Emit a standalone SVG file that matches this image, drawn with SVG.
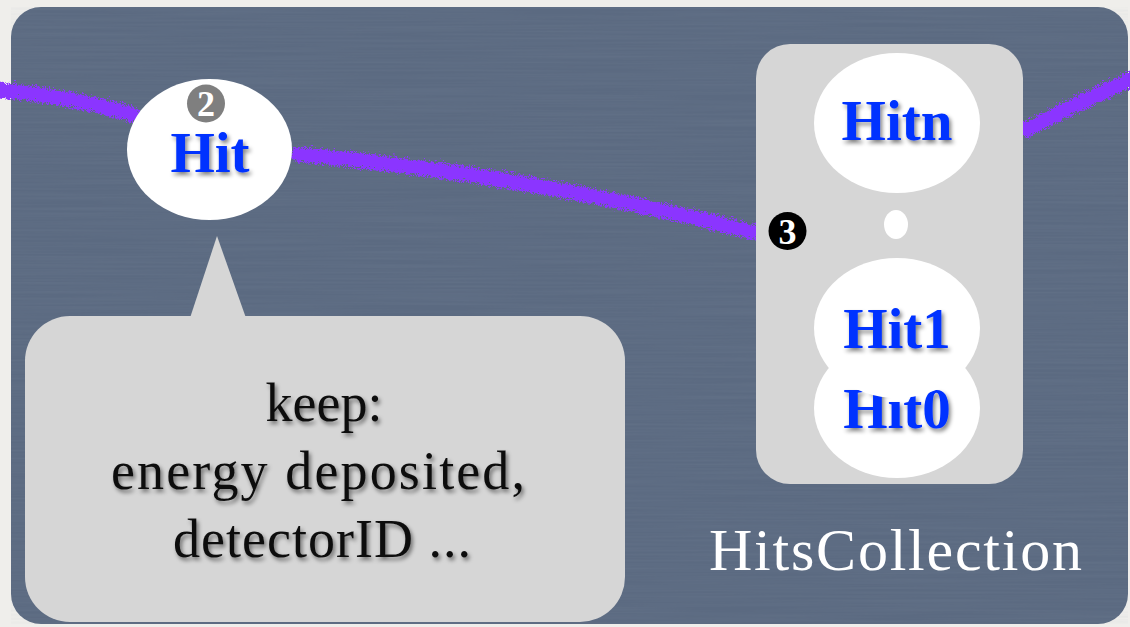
<svg xmlns="http://www.w3.org/2000/svg" width="1130" height="627" viewBox="0 0 1130 627">
  <defs>
    <filter id="tex" x="0" y="0" width="100%" height="100%">
      <feTurbulence type="fractalNoise" baseFrequency="0.006 0.5" numOctaves="2" seed="3" result="n"/>
      <feColorMatrix in="n" type="matrix" values="0 0 0 0 0.32  0 0 0 0 0.38  0 0 0 0 0.47  0 0 0 0.45 -0.12"/>
    </filter>
    <filter id="brush" x="-5%" y="-50%" width="110%" height="200%">
      <feTurbulence type="turbulence" baseFrequency="0.45" numOctaves="2" seed="7" result="t"/>
      <feDisplacementMap in="SourceGraphic" in2="t" scale="10" xChannelSelector="R" yChannelSelector="G"/>
    </filter>
    <filter id="tshadow" x="-10%" y="-20%" width="120%" height="150%">
      <feGaussianBlur in="SourceAlpha" stdDeviation="2.2"/>
      <feOffset dx="2" dy="3" result="b"/>
      <feComponentTransfer><feFuncA type="linear" slope="0.5"/></feComponentTransfer>
      <feMerge><feMergeNode/><feMergeNode in="SourceGraphic"/></feMerge>
    </filter>
  </defs>
  <style>
    .hit { fill: #ffffff; }
    .lbl { font-family: "Liberation Serif", "Times New Roman", serif; font-weight: bold; font-size: 57px; fill: #0533ff; text-anchor: middle; }
    .note { font-family: "Liberation Serif", "Times New Roman", serif; font-size: 54px; fill: #111111; text-anchor: middle; }
    .stroke { fill: none; stroke: #8b36ff; stroke-width: 15; stroke-linecap: round; }
    .num { font-family: "Liberation Serif", serif; font-weight: bold; font-size: 36px; fill: #ffffff; text-anchor: middle; }
  </style>

  <rect x="0" y="0" width="1130" height="627" fill="#efeeeb"/>
  <rect x="11" y="7" width="1117" height="617" rx="30" ry="30" fill="#5b6a81"/>
  <rect x="11" y="7" width="1117" height="617" rx="30" ry="30" fill="#5b6a81" filter="url(#tex)" opacity="0.35"/>

  <g id="connectors" filter="url(#brush)">
    <path class="stroke" d="M -5 87 Q 70 95 130 112"/>
    <path class="stroke" d="M 296 152 Q 524 172 752 230"/>
    <path class="stroke" d="M 1024 127 Q 1080 98 1135 74"/>
  </g>

  <g id="callout">
    <path d="M 217 236 L 246 318 L 190 318 Z" fill="#d6d6d6"/>
    <rect x="25" y="316" width="600" height="306" rx="45" ry="45" fill="#d6d6d6"/>
    <g filter="url(#tshadow)">
      <text class="note" x="324" y="421">keep:</text>
      <text class="note" x="318" y="489" textLength="414" lengthAdjust="spacing">energy deposited,</text>
      <text class="note" x="322" y="557" textLength="298" lengthAdjust="spacing">detectorID ...</text>
    </g>
  </g>

  <g id="hit">
    <ellipse class="hit" cx="209.5" cy="149.5" rx="82.5" ry="70.5"/>
    <circle cx="206" cy="103.5" r="19" fill="#7f7f7f"/>
    <text class="num" x="206" y="116">2</text>
    <text class="lbl" x="210" y="172" font-size="60" filter="url(#tshadow)">Hit</text>
  </g>

  <g id="hitscollection">
    <rect x="756" y="44" width="267" height="440" rx="34" ry="34" fill="#d6d6d6"/>
    <g id="hitn">
      <ellipse class="hit" cx="897" cy="123" rx="83" ry="70"/>
      <text class="lbl" x="897" y="140" filter="url(#tshadow)">Hitn</text>
    </g>
    <ellipse class="hit" cx="896" cy="224.5" rx="12" ry="14.5"/>
    <g id="hit0">
      <ellipse class="hit" cx="897" cy="408" rx="83" ry="70"/>
      <text class="lbl" x="897" y="428" filter="url(#tshadow)">Hıt0</text>
    </g>
    <g id="hit1">
      <ellipse class="hit" cx="897" cy="328" rx="83" ry="70"/>
      <text class="lbl" x="897" y="348" filter="url(#tshadow)">Hit1</text>
    </g>
    <circle cx="787.5" cy="231" r="19" fill="#000000"/>
    <text class="num" x="787.5" y="243.5">3</text>
    <text x="895.5" y="570" font-family="Liberation Serif, 'Times New Roman', serif" font-size="60" fill="#ffffff" text-anchor="middle" textLength="373" lengthAdjust="spacing">HitsCollection</text>
  </g>
</svg>
